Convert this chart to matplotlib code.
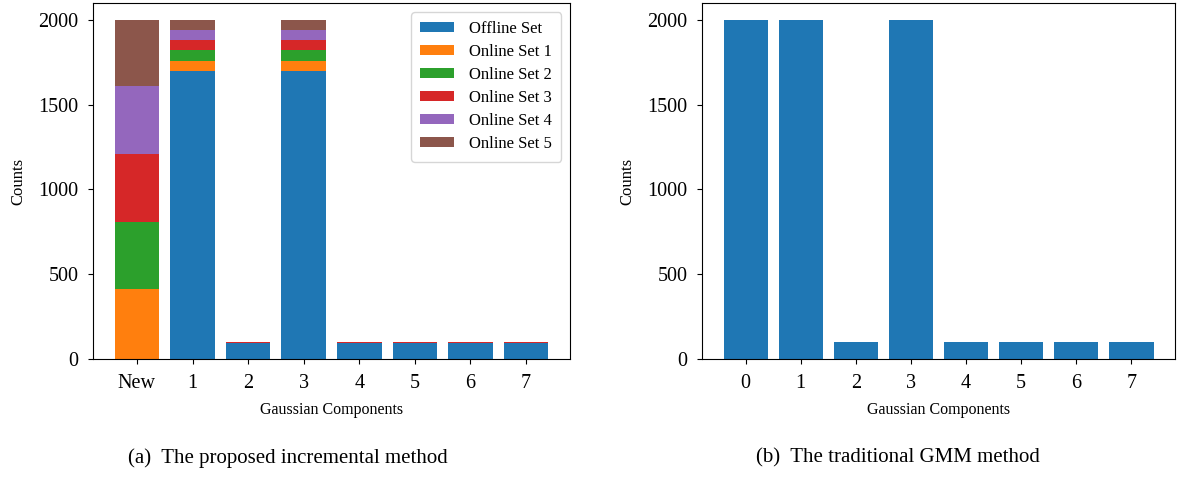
import matplotlib
matplotlib.use("Agg")
import matplotlib.pyplot as plt
import numpy as np

plt.rcParams['font.family'] = ['Liberation Serif', 'DejaVu Serif']

# Left chart (incremental method)
left_categories = ["New", "1", "2", "3", "4", "5", "6", "7"]
series_names = ["Offline Set", "Online Set 1", "Online Set 2", "Online Set 3", "Online Set 4", "Online Set 5"]
offline_set = [0, 1700, 95, 1700, 95, 95, 95, 95]
online_set_1 = [410, 60, 0, 60, 0, 0, 0, 0]
online_set_2 = [400, 60, 0, 60, 0, 0, 0, 0]
online_set_3 = [400, 60, 5, 60, 5, 5, 5, 5]
online_set_4 = [400, 60, 0, 60, 0, 0, 0, 0]
online_set_5 = [390, 60, 0, 60, 0, 0, 0, 0]

# Right chart (traditional GMM)
right_categories = ["0", "1", "2", "3", "4", "5", "6", "7"]
gmm_counts = [2000, 2000, 100, 2000, 100, 100, 100, 100]

colors = ["#1f77b4", "#ff7f0e", "#2ca02c", "#d62728", "#9467bd", "#8c564b"]

fig = plt.figure(figsize=(11.84, 4.78), dpi=100)
ax1 = fig.add_axes([93/1184, 1-359/478, (570-93)/1184, (359-3)/478])
ax2 = fig.add_axes([702/1184, 1-359/478, (1175-702)/1184, (359-3)/478])

x = np.arange(len(left_categories))
bottom = np.zeros(len(left_categories))
for name, vals, c in zip(series_names,
                         [offline_set, online_set_1, online_set_2, online_set_3, online_set_4, online_set_5],
                         colors):
    ax1.bar(x, vals, bottom=bottom, color=c, label=name, width=0.8)
    bottom += np.array(vals)

x2 = np.arange(len(right_categories))
ax2.bar(x2, gmm_counts, color=colors[0], width=0.8)

for ax, cats in [(ax1, left_categories), (ax2, right_categories)]:
    ax.set_xticks(np.arange(len(cats)))
    ax.set_xticklabels(cats)
    ax.set_yticks([0, 500, 1000, 1500, 2000])
    ax.set_xlabel("Gaussian Components", fontsize=11.5)
    ax.set_ylabel("Counts", fontsize=12)
    ax.tick_params(labelsize=14.5, pad=7)
    ax.yaxis.set_label_coords(-67/477, 0.5)
    ax.xaxis.set_label_coords(0.5, -(402-359)/356)

leg = ax1.legend(loc="upper right", fontsize=12, handlelength=2.0, handleheight=0.55,
                 handletextpad=0.9, borderpad=0.55, labelspacing=0.42,
                 bbox_to_anchor=(1.0, 1.0), borderaxespad=0.55)

fig.text(288/1184, 1-458/478, "(a)  The proposed incremental method", ha="center", va="center", fontsize=15)
fig.text(898/1184, 1-458/478, "(b)  The traditional GMM method", ha="center", va="center", fontsize=15)

fig.savefig("out.png", dpi=100)
